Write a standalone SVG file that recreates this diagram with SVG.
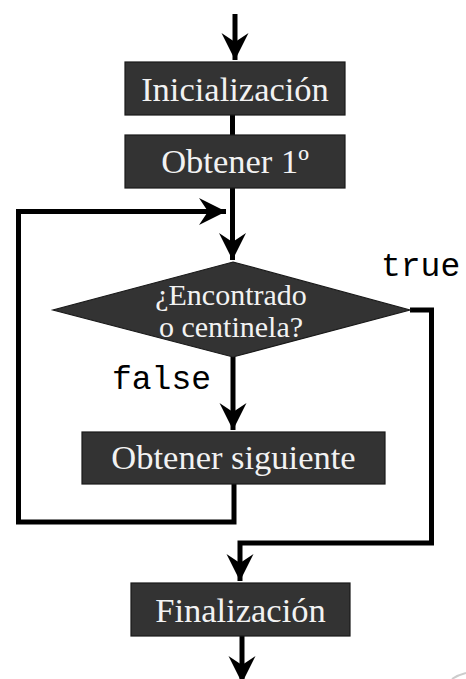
<svg xmlns="http://www.w3.org/2000/svg" width="466" height="679" viewBox="0 0 466 679">
<style>
.box{fill:#333333;stroke:#1a1a1a;stroke-width:1.2}
.lbl{font-family:"Liberation Serif","Times New Roman",serif;font-size:34.5px;fill:#f2f2f2;text-anchor:middle}
.dlbl{font-family:"Liberation Serif","Times New Roman",serif;font-size:30px;fill:#f2f2f2;text-anchor:middle}
.mono{font-family:"Liberation Mono","DejaVu Sans Mono",monospace;font-size:33px;fill:#000}
.wire{fill:none;stroke:#000;stroke-width:5;stroke-linejoin:miter;stroke-linecap:butt}
</style>
<defs>
<marker id="arr" markerUnits="userSpaceOnUse" markerWidth="30" markerHeight="30" viewBox="-27 -15 30 30" refX="0" refY="0" orient="auto">
<path d="M0,0 L-27,-13.5 L-18,0 L-27,13.5 Z" fill="#000"/>
</marker>
</defs>
<g id="connectors">
<path class="wire" d="M235,14 V60" marker-end="url(#arr)"/>
<path class="wire" d="M232.5,115 V135"/>
<path class="wire" d="M232.5,188 V260" marker-end="url(#arr)"/>
<path class="wire" d="M234,484 V522 H18.5 V211.5 H226" marker-end="url(#arr)"/>
<path class="wire" d="M233,357 V430" marker-end="url(#arr)"/>
<path class="wire" d="M410,310 H431.5 V543 H240 V581" marker-end="url(#arr)"/>
<path class="wire" d="M242,636 V683" marker-end="url(#arr)"/>
</g>
<g id="n-init">
<rect class="box" x="125" y="62" width="220" height="53"/>
<text class="lbl" x="235" y="101">Inicialización</text>
</g>
<g id="n-first">
<rect class="box" x="125" y="135" width="220" height="53"/>
<text class="lbl" x="235" y="173">Obtener 1º</text>
</g>
<g id="n-cond">
<polygon class="box" points="233,262 410,310 233,357 53,310"/>
<text class="dlbl" x="231" y="305">¿Encontrado</text>
<text class="dlbl" x="231" y="337">o centinela?</text>
</g>
<text class="mono" x="381" y="276">true</text>
<text class="mono" x="112" y="389">false</text>
<g id="n-next">
<rect class="box" x="82" y="432" width="303" height="52"/>
<text class="lbl" x="233.5" y="469">Obtener siguiente</text>
</g>
<g id="n-end">
<rect class="box" x="131" y="583" width="219" height="53"/>
<text class="lbl" x="240.5" y="622">Finalización</text>
</g>
<path d="M452,679 Q458,675 466,673" fill="none" stroke="#cccccc" stroke-width="2"/>
</svg>
